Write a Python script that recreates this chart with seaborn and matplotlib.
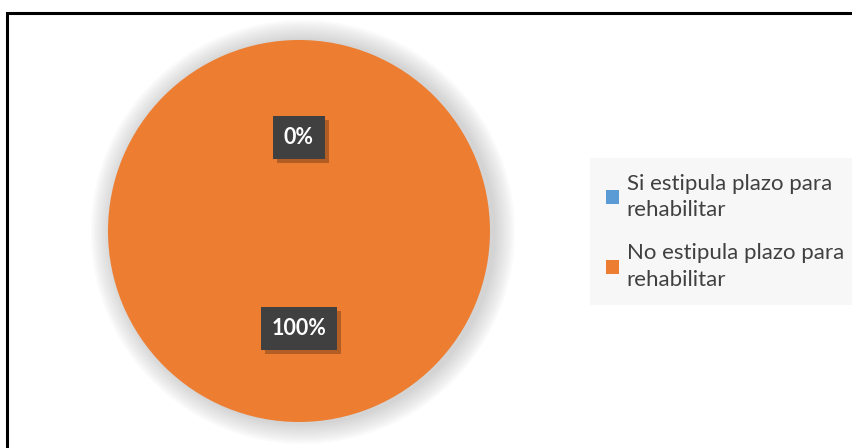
import matplotlib
matplotlib.use("Agg")
import matplotlib.pyplot as plt
import matplotlib.patheffects as pe
from matplotlib.patches import Rectangle, Circle
import numpy as np
import seaborn as sns

categories = ["Si estipula plazo para\nrehabilitar", "No estipula plazo para\nrehabilitar"]
values = [0, 100]
colors = ["#5B9BD5", "#ED7D31"]

sns.set_theme(style="white")
plt.rcParams["font.family"] = ["Lato", "DejaVu Sans"]

fig = plt.figure(figsize=(8.53, 4.48), dpi=100)
fig.patch.set_facecolor("white")

# outer chart frame
fig.patches.append(Rectangle((7.5 / 853, -0.2), 1.2, 1.2 - 12.5 / 448,
                             transform=fig.transFigure, fill=False,
                             edgecolor="black", linewidth=2.2, clip_on=False))

ax = fig.add_axes([108 / 853, 26 / 448, 382 / 853, 382 / 448])

# soft glow behind the pie
for k in range(10, 0, -1):
    ax.add_patch(Circle((0.02, -0.005), 1.0 + k * 0.011, facecolor="#808080",
                        edgecolor="none", alpha=0.035, zorder=0, clip_on=False))

wedges, _ = ax.pie(values, colors=colors, startangle=90, counterclock=False,
                   wedgeprops=dict(linewidth=0, zorder=2))
ax.set_xlim(-1, 1)
ax.set_ylim(-1, 1)
ax.set_aspect("equal")
ax.axis("off")

# percentage labels placed along each wedge's mid-angle
total = sum(values)
dists = [0.49, 0.51]
for w, v, d in zip(wedges, values, dists):
    ang = np.deg2rad((w.theta1 + w.theta2) / 2)
    x, y = d * np.cos(ang), d * np.sin(ang)
    t = ax.text(x, y, f"{v / total * 100:.0f}%", ha="center", va="center",
                color="white", fontsize=15.5, fontweight="bold", zorder=5,
                bbox=dict(boxstyle="square,pad=0.5", facecolor="#404040",
                          edgecolor="none"))
    t.get_bbox_patch().set_path_effects(
        [pe.SimplePatchShadow(offset=(3, -3), shadow_rgbFace="#000000", alpha=0.25),
         pe.Normal()])

handles = [Rectangle((0, 0), 1, 1, facecolor=c, edgecolor="none") for c in colors]
leg = fig.legend(handles, categories, loc="upper left",
                 bbox_to_anchor=(590 / 853, 1 - 158 / 448),
                 frameon=True, fancybox=False, facecolor="#f7f7f7", edgecolor="none",
                 framealpha=1, fontsize=16, labelcolor="#404040",
                 handlelength=0.6, handleheight=0.6, handletextpad=0.35,
                 labelspacing=1.05, borderpad=0.7, borderaxespad=0)
for txt in leg.get_texts():
    txt.set_linespacing(1.4)

fig.savefig("out.png", dpi=100, facecolor="white")
